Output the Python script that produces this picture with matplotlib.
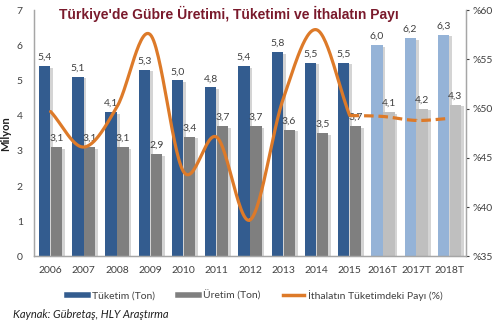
import numpy as np
import matplotlib
matplotlib.use("Agg")
import matplotlib.pyplot as plt
from matplotlib.lines import Line2D
import matplotlib.patheffects as pe

plt.rcParams['font.family'] = ['Lato', 'DejaVu Sans']

categories = ["2006", "2007", "2008", "2009", "2010", "2011", "2012",
              "2013", "2014", "2015", "2016T", "2017T", "2018T"]
tuketim = [5.4, 5.1, 4.1, 5.3, 5.0, 4.8, 5.4, 5.8, 5.5, 5.5, 6.0, 6.2, 6.3]
uretim = [3.1, 3.1, 3.1, 2.9, 3.4, 3.7, 3.7, 3.6, 3.5, 3.7, 4.1, 4.2, 4.3]
ithalat_pay = [49.7, 46.1, 50.2, 57.5, 43.6, 47.1, 38.7, 51.0, 58.0, 49.3]   # 2006-2015
ithalat_tahmin = [49.3, 49.2, 48.8, 49.0]                                      # 2015-2018T
n_actual = 10

c_tuk = '#335c8f'
c_ure = '#7f7f7f'
c_tuk_f = '#95b3d7'
c_ure_f = '#bfbfbf'
c_line = '#dd7a29'
c_text = '#404040'


def smooth(xs, ys, n=30):
    xs = np.asarray(xs, float)
    ys = np.asarray(ys, float)
    px = np.concatenate([[2 * xs[0] - xs[1]], xs, [2 * xs[-1] - xs[-2]]])
    py = np.concatenate([[2 * ys[0] - ys[1]], ys, [2 * ys[-1] - ys[-2]]])
    ox, oy = [], []
    t = np.linspace(0, 1, n)
    for i in range(1, len(px) - 2):
        p0, p1, p2, p3 = px[i - 1], px[i], px[i + 1], px[i + 2]
        q0, q1, q2, q3 = py[i - 1], py[i], py[i + 1], py[i + 2]
        def cr(a0, a1, a2, a3):
            return 0.5 * ((2 * a1) + (-a0 + a2) * t + (2 * a0 - 5 * a1 + 4 * a2 - a3) * t ** 2
                          + (-a0 + 3 * a1 - 3 * a2 + a3) * t ** 3)
        ox.append(cr(p0, p1, p2, p3))
        oy.append(cr(q0, q1, q2, q3))
    return np.concatenate(ox), np.concatenate(oy)


fig = plt.figure(figsize=(5, 3.23), dpi=100)
ax = fig.add_axes([0.068, 0.206, 0.864, 0.763])
ax2 = ax.twinx()

x = np.arange(len(categories))
w = 0.34
off = 0.18
shadow = [pe.SimplePatchShadow(offset=(2, -1), shadow_rgbFace='#d0d0d0', alpha=0.9), pe.Normal()]
tcolors = [c_tuk if i < n_actual else c_tuk_f for i in range(len(x))]
ucolors = [c_ure if i < n_actual else c_ure_f for i in range(len(x))]
b1 = ax.bar(x - off, tuketim, w, color=tcolors, zorder=2)
b2 = ax.bar(x + off, uretim, w, color=ucolors, zorder=2)
for b in list(b1) + list(b2):
    b.set_path_effects(shadow)

for xi, v in zip(x, tuketim):
    ax.text(xi - off, v + 0.12, f"{v:.1f}".replace('.', ','), ha='center', va='bottom',
            fontsize=7.5, color=c_text, zorder=5)
for xi, v in zip(x, uretim):
    ax.text(xi + off, v + 0.12, f"{v:.1f}".replace('.', ','), ha='center', va='bottom',
            fontsize=7.5, color=c_text, zorder=5)

ax.set_xlim(-0.5, len(x) - 0.5)
ax.set_ylim(0, 7)
ax.set_yticks(range(0, 8))
ax.set_xticks(x)
ax.set_xticklabels(categories)
ax.tick_params(axis='x', length=0, labelsize=7.5, colors=c_text, pad=7)
ax.tick_params(axis='y', length=0, labelsize=7.5, colors=c_text, pad=8)
ax.set_ylabel("Milyon", fontsize=8, fontweight='bold', color='#202020', labelpad=4)

sx, sy = smooth(x[:n_actual], ithalat_pay)
ax2.plot(sx, sy, color=c_line, lw=2.3, solid_capstyle='round', zorder=4)
fx, fy = smooth(x[n_actual - 1:], ithalat_tahmin)
ax2.plot(fx, fy, color=c_line, lw=2.3, ls=(0, (3, 1.5)), zorder=4)
ax2.set_ylim(35, 60)
ax2.set_yticks(range(35, 61, 5))
ax2.set_yticklabels([f"%{v}" for v in range(35, 61, 5)])
ax2.tick_params(axis='y', length=2, labelsize=7.5, colors=c_text, pad=3)

for a in (ax, ax2):
    a.spines['top'].set_visible(False)
    for s in ('left', 'right', 'bottom'):
        a.spines[s].set_color('#a6a6a6')
        a.spines[s].set_linewidth(0.9)

fig.text(0.457, 0.957, "Türkiye'de Gübre Üretimi, Tüketimi ve İthalatın Payı",
         ha='center', va='center', fontsize=10, fontweight='bold', color='#7a1a2c',
         family=['Liberation Sans', 'DejaVu Sans'])

handles = [Line2D([], [], color=c_tuk, lw=4),
           Line2D([], [], color=c_ure, lw=4),
           Line2D([], [], color=c_line, lw=2.5)]
labels = ["Tüketim (Ton)", "Üretim (Ton)", "İthalatın Tüketimdeki Payı (%)"]
fig.legend(handles, labels, loc='center', bbox_to_anchor=(0.51, 0.085), ncol=3,
           frameon=False, fontsize=7.5, handlelength=2.0, handletextpad=0.4,
           columnspacing=2.2, labelcolor=c_text)

fig.text(0.026, 0.008, "Kaynak: Gübretaş, HLY Araştırma", fontsize=8, style='italic',
         color='#202020', ha='left', va='bottom')

fig.savefig("out.png", dpi=100)
